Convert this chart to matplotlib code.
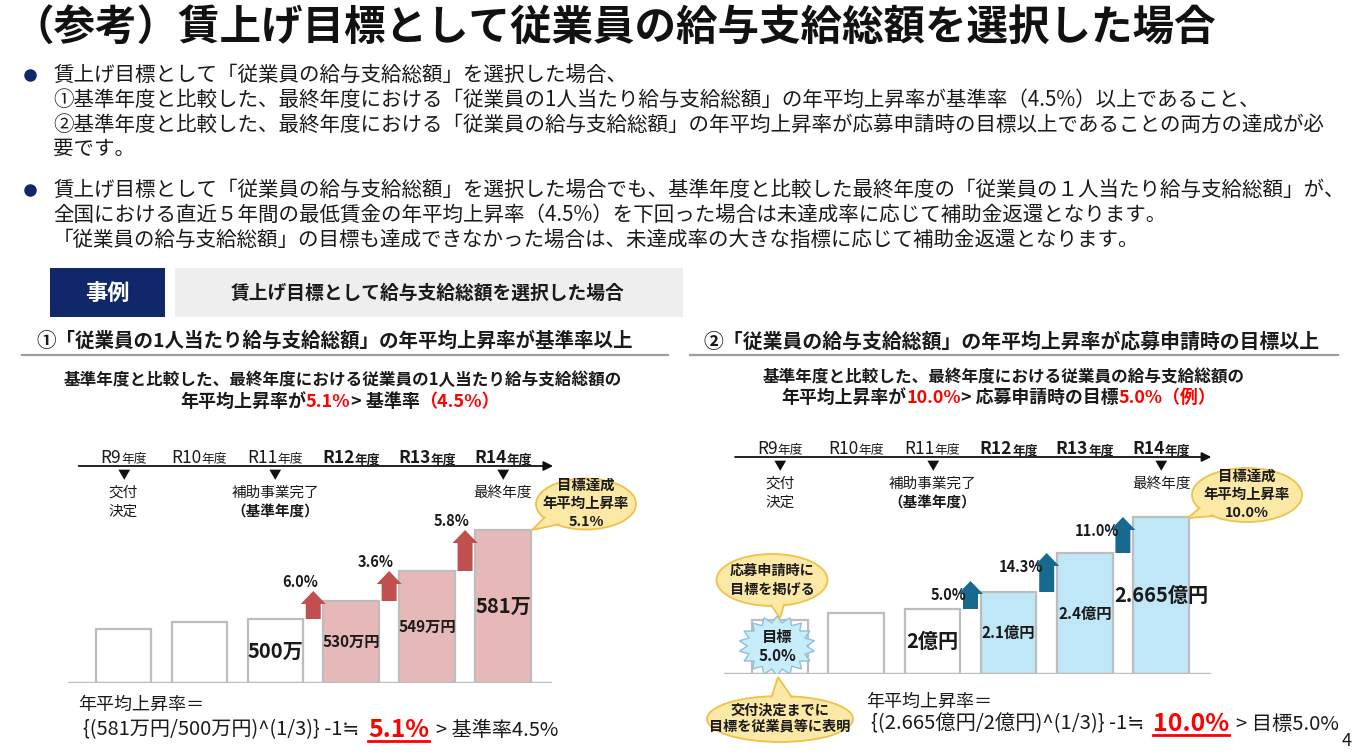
import numpy as np
import matplotlib
matplotlib.use('Agg')
import matplotlib.pyplot as plt
from matplotlib.patches import Rectangle, Ellipse, Polygon

plt.rcParams['font.family'] = ['Noto Sans CJK JP', 'DejaVu Sans']
plt.rcParams['text.color'] = '#1a1a1a'

# データ（棒の高さは図上の模式的な高さ）
years = ['R9', 'R10', 'R11', 'R12', 'R13', 'R14']
left_heights = [54, 61, 64, 82, 112, 153]
left_values = ['', '', '500万', '530万円', '549万円', '581万']
left_growth = ['6.0%', '3.6%', '5.8%']
right_heights = [54, 61, 65, 82, 121, 157]
right_values = ['', '', '2億円', '2.1億円', '2.4億円', '2.665億円']
right_growth = ['5.0%', '14.3%', '11.0%']
milestone_1 = ['交付', '', '補助事業完了', '', '', '最終年度']
milestone_2 = ['決定', '', '（基準年度）', '', '', '']

bullet_1 = ['賃上げ目標として「従業員の給与支給総額」を選択した場合、',
            '①基準年度と比較した、最終年度における「従業員の1人当たり給与支給総額」の年平均上昇率が基準率（4.5%）以上であること、',
            '②基準年度と比較した、最終年度における「従業員の給与支給総額」の年平均上昇率が応募申請時の目標以上であることの両方の達成が必',
            '要です。']
bullet_2 = ['賃上げ目標として「従業員の給与支給総額」を選択した場合でも、基準年度と比較した最終年度の「従業員の１人当たり給与支給総額」が、',
            '全国における直近５年間の最低賃金の年平均上昇率（4.5%）を下回った場合は未達成率に応じて補助金返還となります。',
            '「従業員の給与支給総額」の目標も達成できなかった場合は、未達成率の大きな指標に応じて補助金返還となります。']

W, H = 1362, 756
GRID = '#bdbdbd'
NAVY = '#10286a'
RED = '#ff0000'
PINK = '#e6b9b8'
CYAN = '#bfe7f8'
BFILL = '#fde9a6'
BEDGE = '#efc14a'

fig = plt.figure(figsize=(W / 100, H / 100), dpi=100)
R = fig.canvas.get_renderer()

XL = (-0.735, 5.65)
YT = 245


def make_chart(c0, step, base):
    left = c0 + XL[0] * step
    ax = fig.add_axes([left / W, (H - base) / H, (XL[1] - XL[0]) * step / W, YT / H])
    ax.set_xlim(*XL)
    ax.set_ylim(0, YT)
    ax.axis('off')
    return ax


ax_l = make_chart(123.5, 75.9, 683)
ax_r = make_chart(780, 76.2, 674)

# 文字・装飾用の重ね合わせ (ピクセル座標)
ov = fig.add_axes([0, 0, 1, 1])
ov.set_xlim(0, W)
ov.set_ylim(H, 0)
ov.axis('off')


def runs(x, y, parts, ha='left', va='center', fit=None, z=10):
    def lay(scale):
        arts, cur = [], x
        for p in parts:
            if isinstance(p, (int, float)):
                cur += p * scale
                continue
            s, kw = p
            kw = dict(kw)
            kw['fontsize'] = kw.get('fontsize', 12) * scale
            t = ov.text(cur, y, s, ha='left', va=va, zorder=z, **kw)
            cur += t.get_window_extent(R).width
            arts.append(t)
        return arts, cur - x
    arts, tot = lay(1.0)
    if fit:
        for t in arts:
            t.remove()
        arts, tot = lay(fit / tot)
    sh = {'left': 0, 'center': tot / 2, 'right': tot}[ha]
    for t in arts:
        t.set_x(t.get_position()[0] - sh)
    return arts


def to_px(ax, x, y):
    dx, dy = ax.transData.transform((x, y))
    return dx, H - dy


def bubble(cx, cy, w, h, tail, lines, fs, dy):
    ov.add_patch(Ellipse((cx, cy), w, h, fc=BFILL, ec=BEDGE, lw=1.3, zorder=5))
    ov.add_patch(Polygon(tail, closed=True, fc=BFILL, ec=BEDGE, lw=1.3, zorder=6))
    ov.add_patch(Ellipse((cx, cy), w - 3, h - 3, fc=BFILL, ec='none', zorder=7))
    n = len(lines)
    for k, s in enumerate(lines):
        ov.text(cx, cy + (k - (n - 1) / 2) * dy, s, ha='center', va='center',
                fontsize=fs, fontweight='bold', zorder=8)


def draw_chart(ax, step, heights, values, growth, fill_hi, acol, above):
    x = np.arange(len(heights))
    fills = ['white' if i < 3 else fill_hi for i in x]
    ax.bar(x, heights, width=0.73, color=fills, edgecolor=GRID, linewidth=1.6, zorder=2)
    ax.axhline(0, color=GRID, lw=2.4, zorder=3)
    for i, (h, s) in enumerate(zip(heights, values)):
        if s:
            big = i in (2, len(heights) - 1)
            ax.text(i, h / 2, s, ha='center', va='center', fontsize=14.5 if big else 11,
                    fontweight='bold', zorder=4)
    sw, hw, hl = 7.5 / step, 12.5 / step, 13
    for k, g in enumerate(growth):
        i = k + 2
        xc = i + 0.5
        y0 = heights[i]
        y1 = max(heights[i + 1], y0 + 28)
        pts = [(xc - sw, y0), (xc + sw, y0), (xc + sw, y1 - hl), (xc + hw, y1 - hl),
               (xc, y1), (xc - hw, y1 - hl), (xc - sw, y1 - hl)]
        ax.add_patch(Polygon(pts, closed=True, fc=acol, ec='none', zorder=3))
        if above:
            ax.text(xc + 0.06, y1 + 1, g, ha='right', va='bottom', fontsize=10.5,
                    fontweight='bold', zorder=5)
        else:
            ax.text(xc - 0.05, y1 - 14, g, ha='right', va='center', fontsize=10.5,
                    fontweight='bold', zorder=5)

    # 年度の時間軸
    ax.annotate('', xy=(5.66, 217), xytext=(-0.59, 217),
                arrowprops=dict(arrowstyle='-|>', color='#111111', lw=1.3,
                                mutation_scale=14, shrinkA=0, shrinkB=0),
                annotation_clip=False)
    for i, yr in enumerate(years):
        px, py = to_px(ax, i, 226)
        kw = dict(fontweight='bold') if i >= 3 else {}
        runs(px, py + 6, [(yr, dict(fontsize=12.5, **kw)), ('年度', dict(fontsize=9.2, **kw))],
             ha='center', va='baseline')
        if milestone_1[i]:
            ax.text(i, 207, '▼', ha='center', va='center', fontsize=9, color='#111111')
            ax.text(i, 190, milestone_1[i], ha='center', va='center', fontsize=10.5)
        if milestone_2[i]:
            ax.text(i, 171, milestone_2[i], ha='center', va='center', fontsize=10.5,
                    fontweight='bold' if i == 2 else 'normal')


draw_chart(ax_l, 75.9, left_heights, left_values, left_growth, PINK, '#c0504d', True)
draw_chart(ax_r, 76.2, right_heights, right_values, right_growth, CYAN, '#176a8e', False)

# 目標のスターバースト
n = 18
t = np.linspace(0, 2 * np.pi, 2 * n, endpoint=False) + np.pi / 2
r = np.where(np.arange(2 * n) % 2 == 0, 1.0, 0.78)
star = np.column_stack([-0.04 + 38 * r * np.cos(t) / 76.2, 28 + 30 * r * np.sin(t)])
ax_r.add_patch(Polygon(star, closed=True, fc='#c7edfb', ec='#93bfd3', lw=1.0, zorder=5))
ax_r.text(-0.04, 37, '目標', ha='center', va='center', fontsize=11, fontweight='bold', zorder=6)
ax_r.text(-0.04, 18, '5.0%', ha='center', va='center', fontsize=11, fontweight='bold', zorder=6)

# タイトル
runs(12, 29, [('（参考）賃上げ目標として従業員の給与支給総額を選択した場合',
               dict(fontsize=28, fontweight='bold', color='#111111'))], fit=1205)

# 本文
tmp = ov.text(0, 0, bullet_1[2], fontsize=14)
fs_body = 14 * 1275 / tmp.get_window_extent(R).width
tmp.remove()
for ys, lines in ((75, bullet_1), (190, bullet_2)):
    ov.plot(30, ys, 'o', ms=8, color=NAVY)
    for k, s in enumerate(lines):
        ov.text(53, ys + k * 24.7, s, ha='left', va='center', fontsize=fs_body)

# 事例ボックス
ov.add_patch(Rectangle((50, 268), 115, 49, fc=NAVY, ec='none'))
ov.text(107, 293, '事例', ha='center', va='center', fontsize=16, fontweight='bold', color='white')
ov.add_patch(Rectangle((175, 268), 508, 49, fc='#eeeeee', ec='none'))
ov.text(428, 293, '賃上げ目標として給与支給総額を選択した場合', ha='center', va='center',
        fontsize=13.5, fontweight='bold')

# 見出し
B = dict(fontweight='bold', fontsize=14)
runs(36, 341, [('①「従業員の1人当たり給与支給総額」の年平均上昇率が基準率以上', B)], fit=598)
runs(703, 341, [('②「従業員の給与支給総額」の年平均上昇率が応募申請時の目標以上', B)], fit=616)
ov.plot([22, 668], [355, 355], color='#9e9e9e', lw=1.6)
ov.plot([690, 1338], [355, 355], color='#9e9e9e', lw=1.6)

S = dict(fontweight='bold', fontsize=12)
SR = dict(fontweight='bold', fontsize=12, color=RED)
runs(343, 380, [('基準年度と比較した、最終年度における従業員の1人当たり給与支給総額の', S)],
     ha='center', fit=556)
runs(340, 402, [('年平均上昇率が', S), ('5.1%', SR), ('> 基準率', S), ('（4.5%）', SR)],
     ha='center', fit=319)
runs(1004, 377, [('基準年度と比較した、最終年度における従業員の給与支給総額の', S)],
     ha='center', fit=480)
runs(999, 398, [('年平均上昇率が', S), ('10.0%', SR), ('> 応募申請時の目標', S), ('5.0%（例）', SR)],
     ha='center', fit=434)

# 吹き出し
bubble(586, 504, 100, 51, [(546, 516), (532, 530), (560, 524)],
       ['目標達成', '年平均上昇率', '5.1%'], 10.4, 18)
bubble(1247, 495, 110, 54, [(1203, 505), (1188, 518), (1214, 516)],
       ['目標達成', '年平均上昇率', '10.0%'], 10.4, 18)
bubble(772, 580, 111, 52, [(766, 598), (780, 618), (786, 598)],
       ['応募申請時に', '目標を掲げる'], 10.2, 19)
bubble(780, 719, 146, 46, [(770, 702), (778, 677), (795, 702)],
       ['交付決定までに', '目標を従業員等に表明'], 10.2, 16)

# 計算式
F = dict(fontsize=13)
FR = dict(fontsize=16, fontweight='bold', color=RED)
runs(78, 705, [('年平均上昇率＝', F)])
arts = runs(83, 730, [('{(581万円/500万円)^(1/3)} -1≒', F), 8, ('5.1%', FR), 6, ('> 基準率4.5%', F)], fit=476)
bb = arts[1].get_window_extent(R)
ov.plot([bb.x0, bb.x1], [H - bb.y0 - 1, H - bb.y0 - 1], color=RED, lw=2)
runs(866, 702, [('年平均上昇率＝', F)])
arts = runs(871, 724, [('{(2.665億円/2億円)^(1/3)} -1≒', F), 8, ('10.0%', FR), 6, ('> 目標5.0%', F)], fit=468)
bb = arts[1].get_window_extent(R)
ov.plot([bb.x0, bb.x1], [H - bb.y0 - 1, H - bb.y0 - 1], color=RED, lw=2)

ov.text(1347, 741, '4', ha='center', va='center', fontsize=13)

fig.savefig('out.png', dpi=100)
